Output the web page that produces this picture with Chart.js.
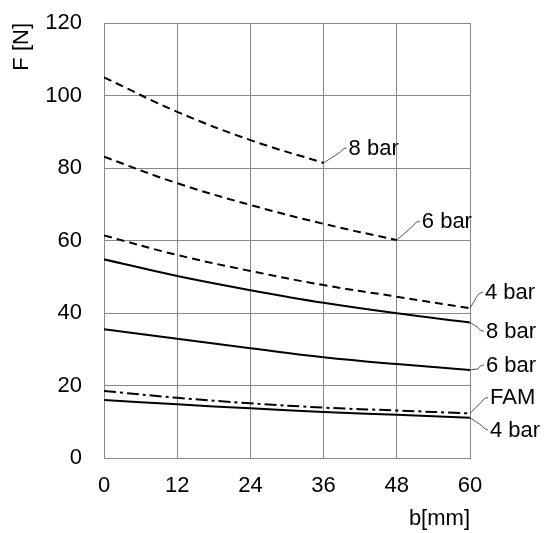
<!DOCTYPE html>
<html>
<head>
<meta charset="utf-8">
<script src="https://cdn.jsdelivr.net/npm/chart.js@4"></script>
<style>
  html, body { margin: 0; padding: 0; background: #fff; }
  #wrap { width: 549px; height: 533px; }
</style>
</head>
<body>
<div id="wrap"><canvas id="mychart" width="549" height="533"></canvas></div>
<script>
// 横軸 b[mm]
const bValues = [0, 12, 24, 36, 48, 60];
// 各系列の力 F [N]
const dashed8 = [105, 95.5, 87.7, 81.4];
const dashed6 = [83.1, 75.8, 69.8, 64.6, 60.1];
const dashed4 = [61.4, 56.0, 51.6, 47.7, 44.5, 41.3];
const solid8 = [54.8, 50.2, 46.3, 42.8, 39.9, 37.4];
const solid6 = [35.5, 32.9, 30.3, 27.8, 25.9, 24.3];
const famValues = [18.5, 16.6, 15.1, 13.9, 13.1, 12.3];
const solid4 = [16.0, 14.8, 13.7, 12.7, 11.9, 11.1];
const yTicks = [0, 20, 40, 60, 80, 100, 120];

const FONT = '"Liberation Sans", Arial, sans-serif';
const FS = 22;

function pts(arr) {
  return arr.map((v, i) => ({ x: bValues[i], y: v }));
}

function ds(label, arr, dash, lab) {
  return {
    label: label,
    data: pts(arr),
    borderColor: '#000',
    borderWidth: 2,
    borderDash: dash,
    pointRadius: 0,
    fill: false,
    tension: 0.4,
    endLabel: lab // ラベル位置（端点からのずれ）
  };
}

// 端点ラベルと引出線
const endLabels = {
  id: 'endLabels',
  afterDatasetsDraw(chart) {
    const c = chart.ctx;
    const xs = chart.scales.x, ys = chart.scales.y;
    c.save();
    c.font = FS + 'px ' + FONT;
    c.fillStyle = '#000';
    c.textBaseline = 'middle';
    c.strokeStyle = '#555';
    c.lineWidth = 1;
    chart.data.datasets.forEach(d => {
      const last = d.data[d.data.length - 1];
      const px = xs.getPixelForValue(last.x);
      const py = ys.getPixelForValue(last.y);
      const tx = px + d.endLabel.dx;
      const ty = py + d.endLabel.dy;
      const s = ty < py ? 1 : -1;
      c.beginPath();
      c.moveTo(px, py);
      c.lineTo(tx - 8, ty + s * 4);
      c.quadraticCurveTo(tx - 6, ty, tx - 2, ty);
      c.stroke();
      c.fillText(d.label, tx, ty + 1);
    });
    c.restore();
  }
};

const ctx = document.getElementById('mychart').getContext('2d');
const myChart = new Chart(ctx, {
  type: 'line',
  data: {
    datasets: [
      ds('8 bar', dashed8, [8, 5], { dx: 25, dy: -15 }),
      ds('6 bar', dashed6, [8, 5], { dx: 25, dy: -19 }),
      ds('4 bar', dashed4, [8, 5], { dx: 15, dy: -16 }),
      ds('8 bar', solid8, [], { dx: 16, dy: 9 }),
      ds('6 bar', solid6, [], { dx: 16, dy: -5 }),
      ds('FAM', famValues, [12, 4, 3, 4], { dx: 20, dy: -16 }),
      ds('4 bar', solid4, [], { dx: 20, dy: 12 })
    ]
  },
  options: {
    responsive: false,
    animation: false,
    layout: { padding: { top: 23, right: 79, left: 0, bottom: 0 } },
    plugins: { legend: { display: false }, tooltip: { enabled: false } },
    scales: {
      x: {
        type: 'linear',
        min: 0, max: 60,
        afterFit: s => { s.height = 75; },
        afterBuildTicks: s => { s.ticks = bValues.map(v => ({ value: v })); },
        grid: { color: '#888', lineWidth: 1, drawTicks: false },
        border: { color: '#888' },
        ticks: { color: '#000', padding: 15, font: { family: FONT, size: FS } },
        title: {
          display: true, text: 'b[mm]', align: 'end', color: '#000',
          font: { family: FONT, size: FS }, padding: { top: 0, bottom: 1 }
        }
      },
      y: {
        min: 0, max: 120,
        afterFit: s => { s.width = 104; s.paddingTop = 0; s.paddingBottom = 0; },
        afterBuildTicks: s => { s.ticks = yTicks.map(v => ({ value: v })); },
        grid: { color: '#888', lineWidth: 1, drawTicks: false },
        border: { color: '#888' },
        ticks: { color: '#000', padding: 22, font: { family: FONT, size: FS } },
        title: {
          display: true, text: 'F [N]', align: 'end', color: '#000',
          font: { family: FONT, size: FS }, padding: { top: 9, bottom: 0 }
        }
      }
    }
  },
  plugins: [endLabels]
});
</script>
</body>
</html>
